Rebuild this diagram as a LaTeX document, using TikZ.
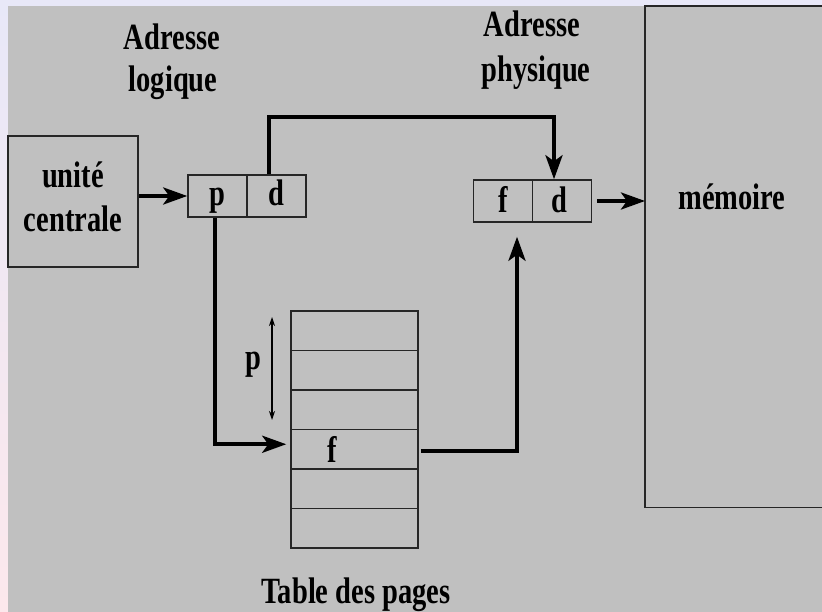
\documentclass[tikz,border=0pt]{standalone}
\usepackage{fontspec}
\usetikzlibrary{arrows.meta,calc}
\newfontfamily\dfont{Liberation Serif}[FakeStretch=0.77]
\definecolor{bgGray}{HTML}{C0C0C0}
\definecolor{lavL}{HTML}{E8E8F8}
\definecolor{pinkL}{HTML}{FCE8EC}
\definecolor{lineC}{HTML}{262626}
\begin{document}
\begin{tikzpicture}[x=1pt,y=-1pt,
  font=\dfont\bfseries\fontsize{37}{42}\selectfont,
  box/.style={draw=lineC, line width=1.5pt, inner sep=0pt},
  cell/.style={box, minimum width=59pt, minimum height=42pt, text depth=0pt},
  row/.style={box, minimum width=127pt, minimum height=39.5pt},
  lbl/.style={anchor=base, inner sep=0pt},
  conn/.style={line width=4pt, line join=miter, -{Stealth[length=24pt,width=17pt,inset=6pt]}},
  dbl/.style={line width=1.1pt, {Stealth[length=9pt,width=6pt]}-{Stealth[length=9pt,width=6pt]}}]
\useasboundingbox (0,0) rectangle (822,612);
\fill[lavL] (0,0) rectangle (822,6);
\shade[top color=lavL, bottom color=pinkL] (0,0) rectangle (8,612);
\fill[bgGray] (8,6) rectangle (822,612);

% memory
\node[minimum width=177pt, minimum height=501pt, inner sep=0pt, anchor=north west] (mem) at (645,6) {};
\draw[lineC, line width=1.8pt] (mem.north east) -- (mem.north west) -- (mem.south west) -- (mem.south east);
\node[lbl] (memtxt) at (732,210) {mémoire};

% CPU
\node[box, minimum width=130pt, minimum height=131pt] (cpu) at (73,201.5) {};
\node[lbl] (cpu1) at (73,188) {unité};
\node[lbl] (cpu2) at (73,232) {centrale};

% labels
\node[lbl] (al1) at (172,50) {Adresse};
\node[lbl] (al2) at (173,92) {logique};
\node[lbl] (ap1) at (532,37) {Adresse};
\node[lbl] (ap2) at (536,82) {physique};

% logical address
\node[cell, text height=20pt] (pc) at (217.5,196) {p};
\node[cell, text height=20pt] (dc) at (276.5,196) {d};

% physical address
\node[cell, text height=24pt] (fp) at (503,201) {f};
\node[cell, text height=24pt, text width=59pt, align=left] (dp) at (562,201) {\hspace*{19pt}d};

% page table
\foreach \i in {1,...,6}{
  \node[row] (t\i) at (354.5,{330.75+39.5*(\i-1)}) {};
}
\node[lbl] (ftxt) at (332,462) {f};
\node[lbl] (ptxt) at (253,370) {p};
\coordinate (pa1) at (272,317);
\coordinate (pa2) at (272,420);
\draw[dbl] (pa1) -- (pa2);
\node[lbl] (tabtxt) at (356,603) {Table des pages};

% connectors
\coordinate (tp) at (400,117);
\draw[conn] (cpu.east |- pc.west) -- (pc.west);
\draw[conn] ([xshift=-7.5pt]dc.north) |- (tp) -| ([xshift=-8pt]dp.north);
\draw[conn, shorten >=4pt] ([xshift=-2.5pt]pc.south) |- ([yshift=5pt]t4.west);
\draw[conn, shorten <=2pt, shorten >=14pt] ([yshift=-1.5pt]t4.east) -| ([xshift=14pt]fp.south);
\draw[conn, shorten <=5pt] (dp.east) -- (dp.east -| mem.west);
\end{tikzpicture}
\end{document}
